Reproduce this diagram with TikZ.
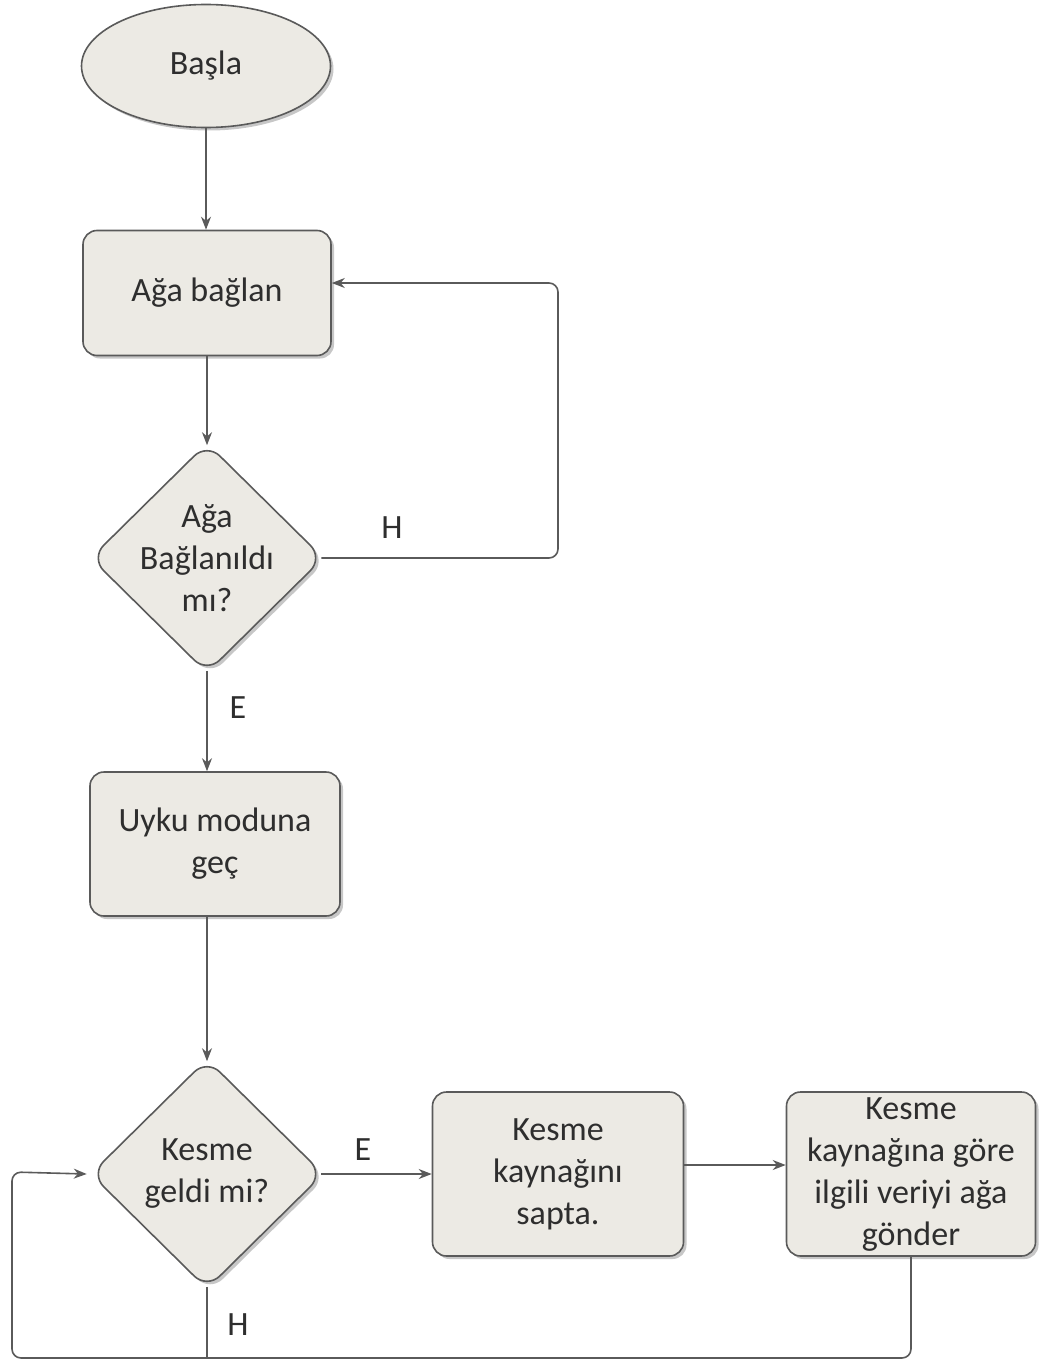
\documentclass[tikz,border=0pt]{standalone}
\usepackage{fontspec}
\setmainfont{Carlito}
\usetikzlibrary{shapes.geometric,shadows,arrows.meta}
\definecolor{boxfill}{HTML}{ECEAE4}
\definecolor{edgegray}{HTML}{5A5A5A}
\definecolor{txt}{HTML}{2E2E2E}
\begin{document}
\begin{tikzpicture}[x=1pt,y=-1pt,
  every node/.style={font=\fontsize{34}{42}\selectfont, text=txt},
  shade/.style={drop shadow={shadow xshift=3pt, shadow yshift=-3pt, fill=black, opacity=0.22}},
  procbox/.style={draw=edgegray, line width=1.6pt, fill=boxfill, rounded corners=14pt,
    shade, align=center, inner sep=0pt},
  termnode/.style={ellipse, draw=edgegray, line width=1.6pt, fill=boxfill, shade,
    minimum width=249pt, minimum height=123pt, inner sep=0pt},
  decision/.style={diamond, draw=edgegray, line width=1.6pt, fill=boxfill, rounded corners=18pt,
    shade, align=center, inner sep=-4pt, minimum width=233pt, minimum height=230pt},
  conn/.style={draw=edgegray, line width=1.6pt, rounded corners=9pt},
  arr/.style={conn, -{Stealth[length=13pt,width=10pt]}},
  lbl/.style={inner sep=0pt}
]
\useasboundingbox (0,0) rectangle (1041,1362);

% nodes
\node[termnode] (start) at (206,66) {Başla};
\node[procbox, minimum width=248pt, minimum height=125pt] (connect) at (207,293) {Ağa bağlan};
\node[decision] (isconn) at (207,558) {Ağa\\Bağlanıldı\\mı?};
\node[procbox, minimum width=250pt, minimum height=144pt] (sleep) at (215,844) {Uyku moduna\\geç};
\node[decision] (isint) at (207,1174) {Kesme\\geldi mi?};
\node[procbox, minimum width=251pt, minimum height=164pt] (detect) at (558,1174) {Kesme\\kaynağını\\sapta.};
\node[procbox, minimum width=249pt, minimum height=164pt] (send) at (911,1174) {Kesme\\kaynağına göre\\ilgili veriyi ağa\\gönder};

% loop helper points
\coordinate (retry) at (558,283);
\coordinate (bottomR) at (911,1358);
\coordinate (bottomL) at (12,1358);
\coordinate (leftUp) at (12,1172);

% connectors
\draw[arr] (start.south) -- (start.south |- connect.north);
\draw[arr] (connect.south -| isconn.north) -- ([yshift=-3pt]isconn.north);
\draw[arr] ([xshift=-3pt]isconn.east) -- (retry |- isconn.east) -- (retry) -- (connect.east |- retry);
\draw[arr] ([yshift=3pt]isconn.south) -- (isconn.south |- sleep.north);
\draw[arr] (sleep.south -| isint.north) -- ([yshift=-3pt]isint.north);
\draw[arr] ([xshift=-3pt]isint.east) -- (detect.west |- isint.east);
\draw[arr] ([yshift=9pt]detect.east) -- ([yshift=9pt]send.west);
\draw[arr] (send.south) -- (bottomR) -- (bottomL) -- (leftUp) -- ([xshift=-3pt]isint.west);
\draw[conn] ([yshift=3pt]isint.south) -- (isint.south |- bottomL);

% branch labels
\node[lbl] (hA) at (392,528) {H};
\node[lbl] (eA) at (238,708) {E};
\node[lbl] (eB) at (363,1150) {E};
\node[lbl] (hB) at (238,1325) {H};
\end{tikzpicture}
\end{document}
